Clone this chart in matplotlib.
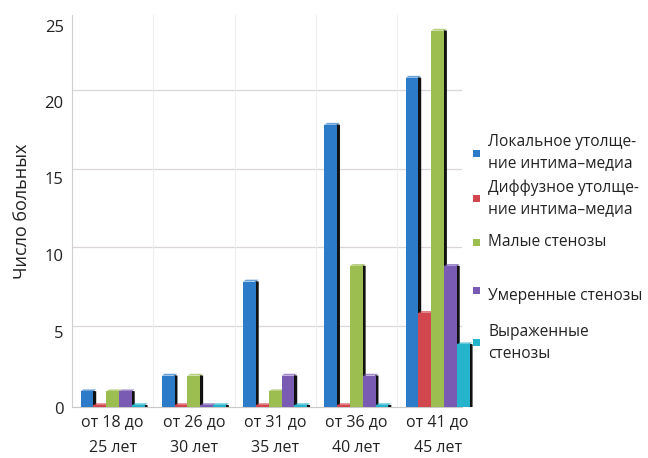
import matplotlib
matplotlib.use("Agg")
import matplotlib.pyplot as plt
from matplotlib.patches import Polygon, Rectangle
from matplotlib.transforms import ScaledTranslation
import numpy as np

plt.rcParams['font.family'] = ['Open Sans', 'DejaVu Sans']

categories = ["от 18 до\n25 лет", "от 26 до\n30 лет", "от 31 до\n35 лет",
              "от 36 до\n40 лет", "от 41 до\n45 лет"]
series_names = ["Локальное утолще-\nние интима–медиа",
                "Диффузное утолще-\nние интима–медиа",
                "Малые стенозы",
                "Умеренные стенозы",
                "Выраженные\nстенозы"]
local_thick = [1, 2, 8, 18, 21]
diffuse_thick = [0, 0, 0, 0, 6]
small_sten = [1, 2, 1, 9, 24]
moderate_sten = [1, 0, 2, 2, 9]
severe_sten = [0, 0, 0, 0, 4]
series_values = [local_thick, diffuse_thick, small_sten, moderate_sten, severe_sten]
y_ticks = [0, 5, 10, 15, 20, 25]
colors = ["#2C7BC9", "#D2474D", "#9CBD4F", "#7A5BB4", "#26B3CC"]

DPI = 100
fig = plt.figure(figsize=(6.48, 4.58), dpi=DPI)
ax = fig.add_axes([72/648, 1 - 407/458, (462-72)/648, (407-15)/458])
ax.set_xlim(-0.5, 4.3)
ax.set_ylim(0, 25)

# back-wall gridlines sit slightly above the front plane
wall_shift = ScaledTranslation(0, 3/DPI, fig.dpi_scale_trans)
for yv in y_ticks[1:]:
    ln = ax.axhline(yv, color="#dcd6d6", lw=0.9, zorder=0)
    ln.set_transform(ln.get_transform() + wall_shift)
for xv in np.arange(0.5, 4.5, 1.0):
    ax.axvline(xv, color="#eeeeee", lw=0.8, zorder=0)

bw = 0.158
depth_x = 0.035
depth_y = 0.12
x = np.arange(len(categories))
for i, (vals, col) in enumerate(zip(series_values, colors)):
    offs = (i - 2) * bw
    for xi, v in zip(x, vals):
        left = xi + offs - bw / 2
        right = left + bw
        h = max(v, 0.12)
        # dark side face
        side = Polygon([[right - 0.005, 0], [right + depth_x, 0],
                        [right + depth_x, h], [right - 0.005, h + depth_y * 0.3]],
                       closed=True, facecolor="#111111", edgecolor="none",
                       zorder=3, clip_on=False)
        ax.add_patch(side)
        ax.add_patch(Rectangle((left, 0), bw, h, facecolor=col,
                               edgecolor="none", zorder=4, clip_on=False))
        # lighter top face
        top = Polygon([[left, h], [right, h], [right + depth_x, h + depth_y],
                       [left + depth_x, h + depth_y]], closed=True,
                      facecolor=col, alpha=0.7, edgecolor="none",
                      zorder=4, clip_on=False)
        ax.add_patch(top)

ax.set_xticks(x)
ax.set_xticklabels(categories, fontsize=11.5, linespacing=1.8, color="#222222")
ax.set_yticks(y_ticks)
ax.tick_params(axis='y', labelsize=12, length=0, pad=6, labelcolor="#222222")
ax.tick_params(axis='x', length=0, pad=5)
# value labels on the front plane use a slightly compressed perspective scale
for v, lab in zip(y_ticks, ax.get_yticklabels()):
    drop = (1 + 0.38 * v) / DPI
    lab.set_transform(lab.get_transform() +
                      ScaledTranslation(0, -drop, fig.dpi_scale_trans))
ax.set_ylabel("Число больных", fontsize=13, labelpad=10, color="#222222")
for s in ["top", "right"]:
    ax.spines[s].set_visible(False)
ax.spines["left"].set_color("#cfcfcf")
ax.spines["bottom"].set_color("#c8c8c8")

# legend
legend_y = [[141, 164], [187, 209], [242], [296], [331, 355]]
marker_y = [153, 198, 242, 290, 342]
for name, col, ly, my in zip(series_names, colors, legend_y, marker_y):
    fig.patches.append(Rectangle((473/648, 1 - (my + 4)/458), 7/648, 7/458,
                                 facecolor=col, edgecolor="none",
                                 transform=fig.transFigure, figure=fig))
    yc = sum(ly) / len(ly)
    fig.text(488/648, 1 - yc/458, name, fontsize=11.2, va="center", ha="left",
             linespacing=1.45, color="#222222")

fig.savefig("out.png", dpi=DPI)
